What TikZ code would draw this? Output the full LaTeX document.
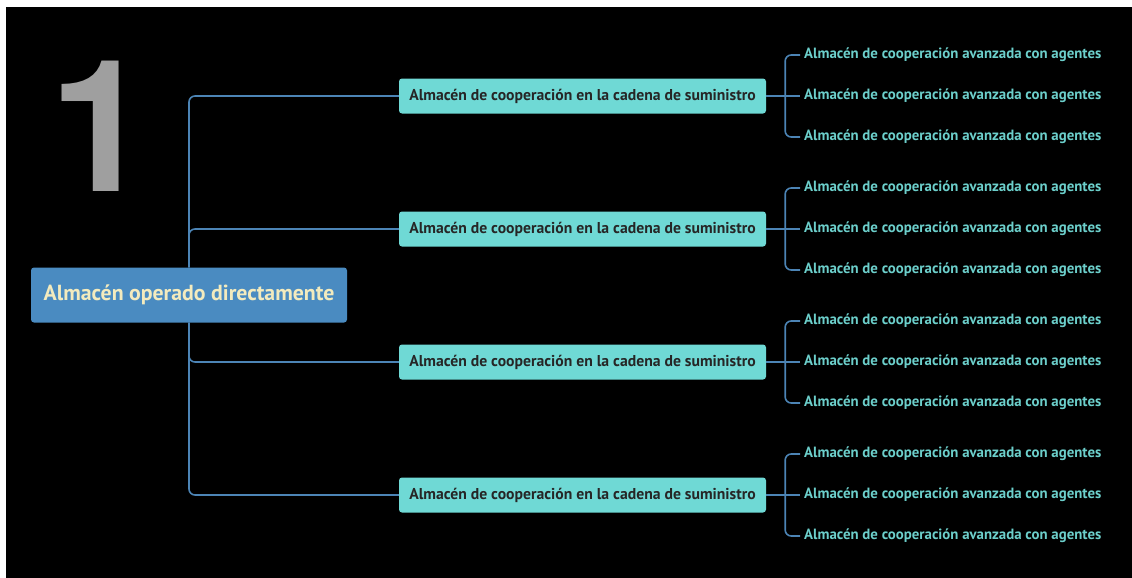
\documentclass[tikz,border=0pt]{standalone}
\usepackage{fontspec}
\setmainfont{PT Sans}
\newfontfamily\digitfont{TeX Gyre Heros}
\usetikzlibrary{positioning,calc}

\definecolor{rootblue}{HTML}{4A8BC1}
\definecolor{cream}{HTML}{F3EBBE}
\definecolor{aqua}{HTML}{6FD9D5}
\definecolor{leafaqua}{HTML}{6CCFCB}
\definecolor{linkblue}{HTML}{4C84B5}

\begin{document}
\begin{tikzpicture}[x=1pt, y=-1pt,
		conn/.style={linkblue, line width=1.6pt, rounded corners=6pt},
		rootbox/.style={fill=rootblue, text=cream, rounded corners=3pt, minimum width=316pt, minimum height=55pt, font=\bfseries\fontsize{21.8}{24}\selectfont},
		midbox/.style={fill=aqua, text=black!85, rounded corners=3pt, minimum width=367pt, minimum height=35pt, font=\bfseries\fontsize{15.7}{17}\selectfont},
		leaf/.style={text=leafaqua, anchor=west, inner xsep=4pt, font=\bfseries\fontsize{14.85}{16}\selectfont}]
		\useasboundingbox (0,0) rectangle (1132,578);
		\fill[white] (0,0) rectangle (1132,578);
		\fill[black] (6,7) rectangle (1132,578);
		
		\node[text=gray!75, inner sep=0pt] (one) at (101,126) {\digitfont\bfseries\fontsize{184}{184}\selectfont 1};
		
		\node[rootbox] (root) at (189,295) {Almacén operado directamente};
		
		\foreach \i/\y in {1/96, 2/229, 3/362, 4/495} {
			\node[midbox] (m\i) at (582.5,\y) {Almacén de cooperación en la cadena de suministro};
			\foreach \j/\dy in {1/-41, 2/0, 3/41}
				\node[leaf] (l\i\j) at ({800},{\y+(\dy)}) {Almacén de cooperación avanzada con agentes};
			\coordinate (b\i) at ($(m\i.east)+(19,0)$);
			\draw[conn] (m\i.east) -- (l\i2.west);
			\draw[conn] (b\i) |- (l\i1.west);
			\draw[conn] (b\i) |- (l\i3.west);
		}
		
		\draw[conn] (root.north) |- (m1.west);
		\draw[conn] (root.north) |- (m2.west);
		\draw[conn] (root.south) |- (m3.west);
		\draw[conn] (root.south) |- (m4.west);
	\end{tikzpicture}
\end{document}
